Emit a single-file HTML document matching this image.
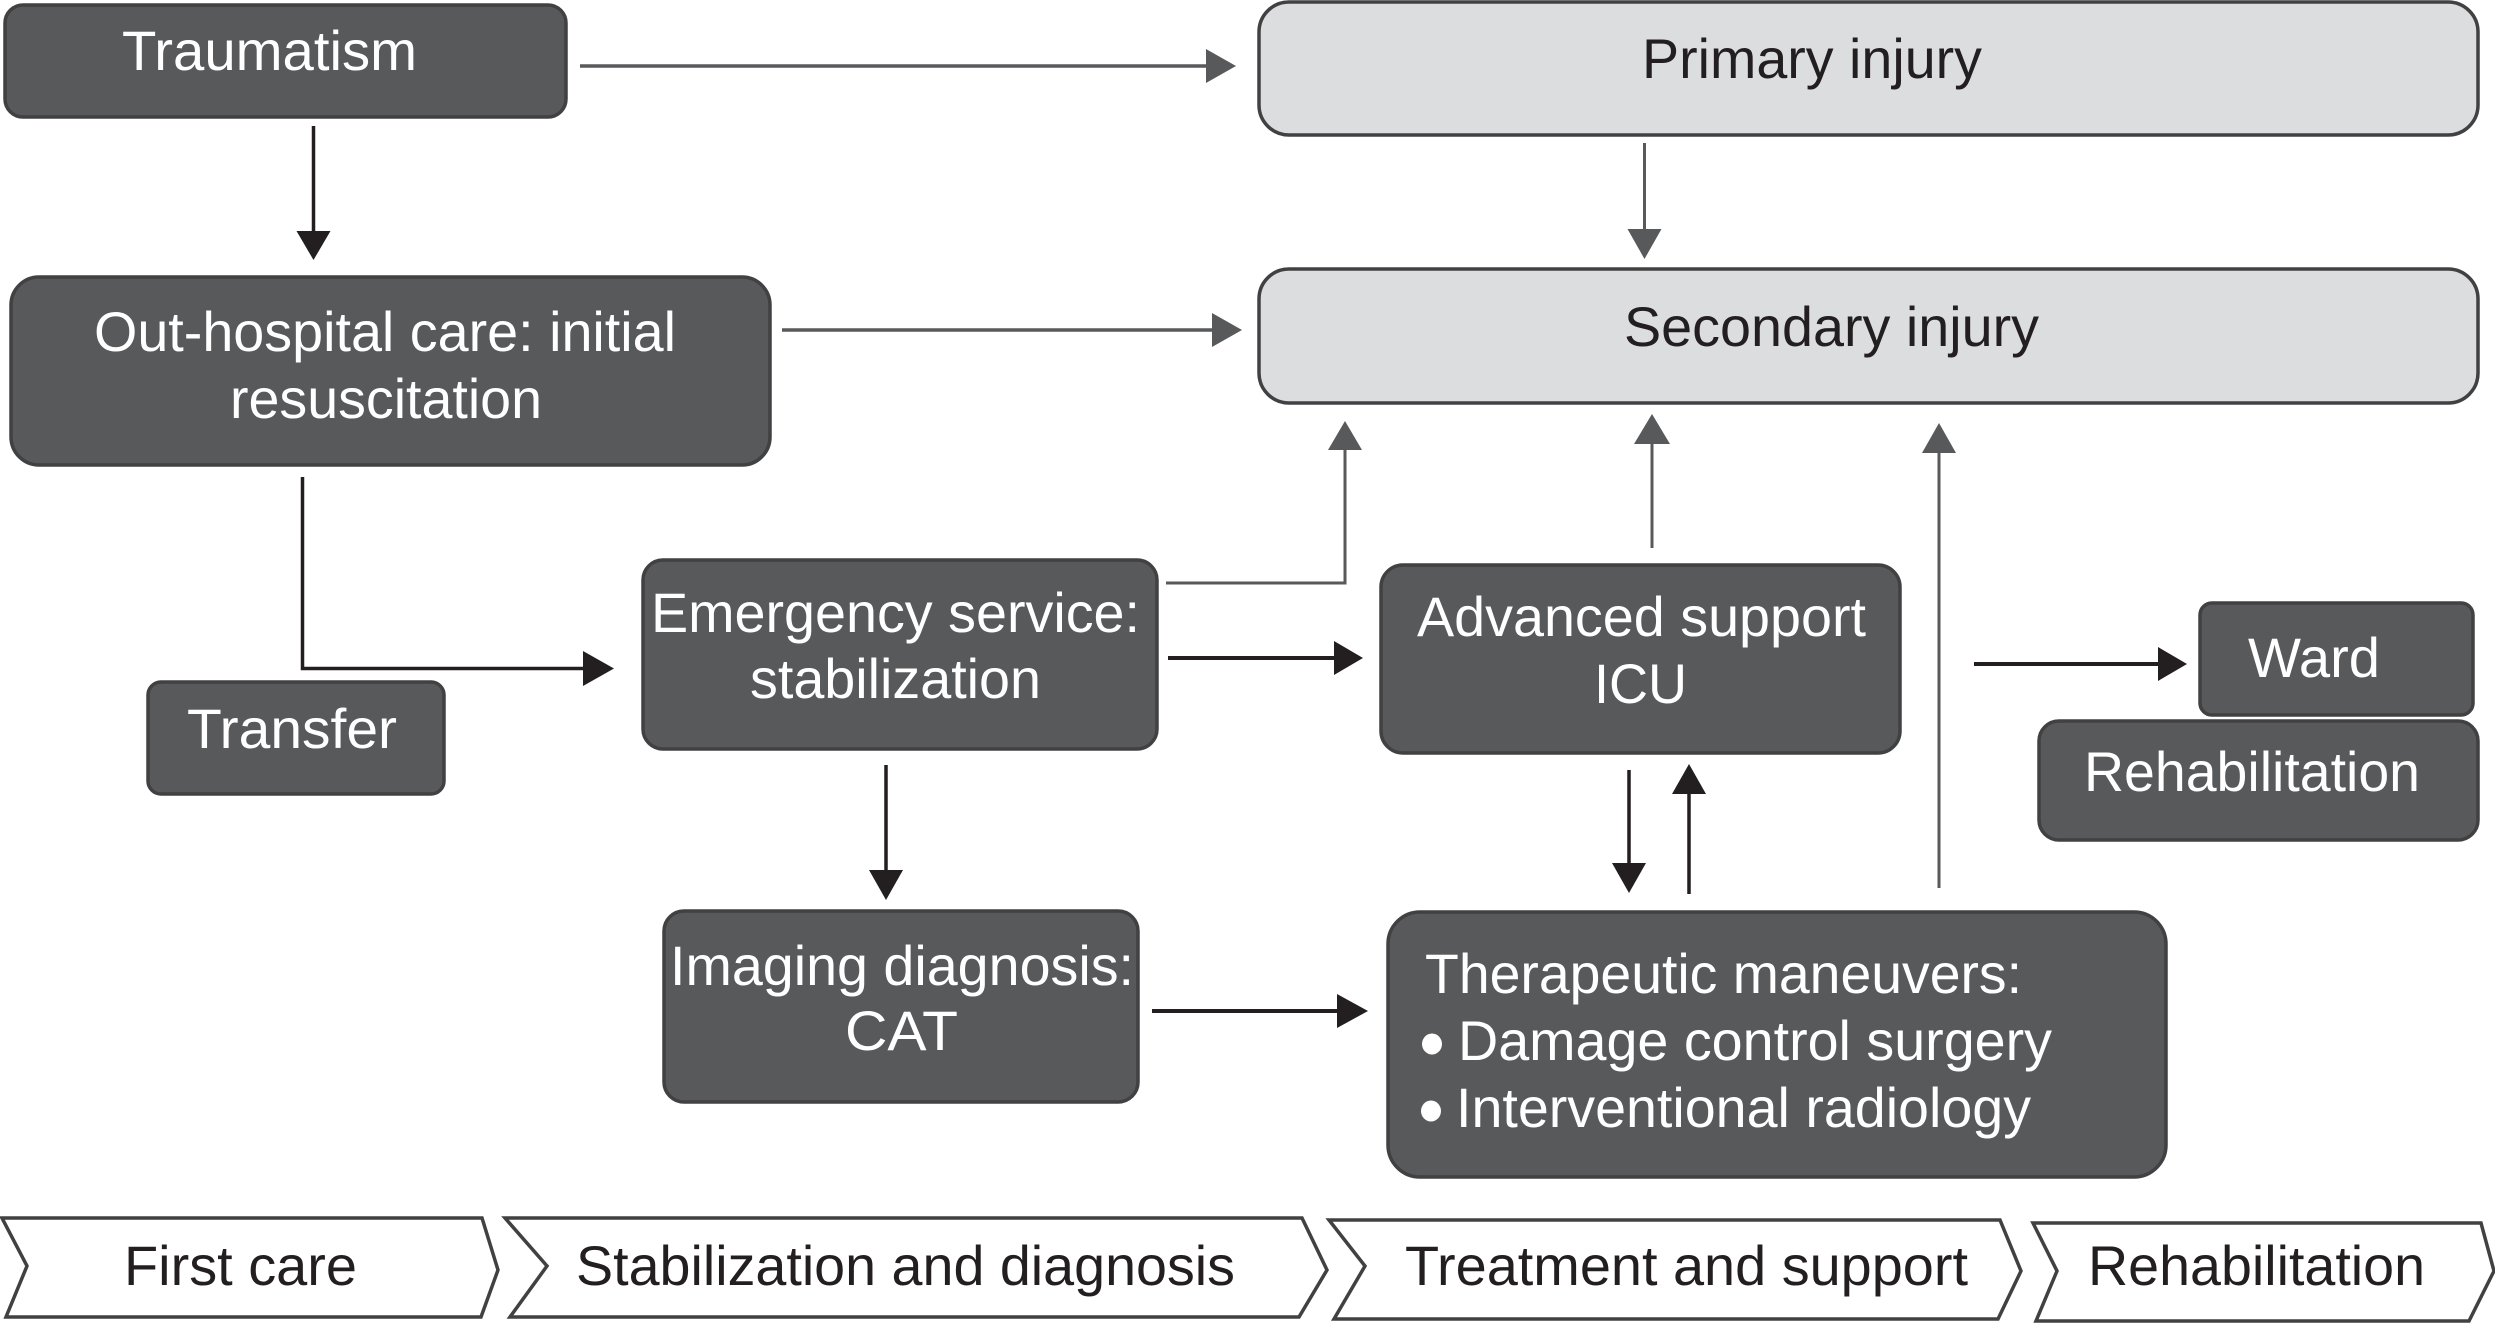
<!DOCTYPE html>
<html lang="en">
<head>
<meta charset="utf-8">
<title>Trauma care pathway</title>
<style>
html,body{margin:0;padding:0;background:#fff;width:2495px;height:1343px;overflow:hidden}
svg{display:block}
text{font-family:"Liberation Sans",Arial,sans-serif;font-size:56px}
.w{fill:#fff}
.k{fill:#231f20}
.d{fill:#58595b;stroke:#414042;stroke-width:3.5}
.l{fill:#dcddde;stroke:#414042;stroke-width:3.5}
.c{fill:#fff;stroke:#414042;stroke-width:3.5}
.g{stroke:#58595b;fill:none}
.b{stroke:#231f20;fill:none}
.gh{fill:#58595b}
.bh{fill:#231f20}
</style>
</head>
<body>
<svg xmlns="http://www.w3.org/2000/svg" width="2495" height="1343" viewBox="0 0 2495 1343">
<!-- boxes -->
<rect class="d" x="5" y="5" width="561" height="112" rx="18"/>
<rect class="d" x="11" y="277" width="759" height="188" rx="28"/>
<rect class="d" x="643" y="560" width="514" height="189" rx="20"/>
<rect class="d" x="148" y="682" width="296" height="112" rx="13"/>
<rect class="d" x="664" y="911" width="474" height="191" rx="20"/>
<rect class="l" x="1259" y="2" width="1219" height="133" rx="30"/>
<rect class="l" x="1259" y="269" width="1219" height="134" rx="30"/>
<rect class="d" x="1381" y="565" width="519" height="188" rx="22"/>
<rect class="d" x="2200" y="603" width="273" height="112" rx="12"/>
<rect class="d" x="2039" y="721" width="439" height="119" rx="20"/>
<rect class="d" x="1388" y="912" width="778" height="265" rx="32"/>

<!-- chevrons -->
<polygon class="c" points="2,1218 482,1218 498,1270 481,1317 6,1317 27,1266"/>
<polygon class="c" points="505,1218 1302,1218 1327,1270 1299,1317 510,1317 547,1266"/>
<polygon class="c" points="1329,1220 2000,1220 2021,1271 1998,1319 1334,1319 1365,1266"/>
<polygon class="c" points="2033,1223 2481,1223 2494,1271 2469,1321 2036,1321 2057,1271"/>

<!-- gray arrows -->
<path class="g" stroke-width="3.5" d="M580 66H1210"/>
<polygon class="gh" points="1206,49 1236,66 1206,83"/>
<path class="g" stroke-width="3.5" d="M782 330H1216"/>
<polygon class="gh" points="1212,313 1242,330 1212,347"/>
<path class="g" stroke-width="3" d="M1644.5 143V233"/>
<polygon class="gh" points="1627.5,229 1661.5,229 1644.5,259"/>
<path class="g" stroke-width="3" d="M1166 583H1345V446"/>
<polygon class="gh" points="1328,450 1362,450 1345,421"/>
<path class="g" stroke-width="3" d="M1652 548V440"/>
<polygon class="gh" points="1634,444 1670,444 1652,414"/>
<path class="g" stroke-width="3" d="M1939 888V449"/>
<polygon class="gh" points="1922,453 1956,453 1939,423"/>

<!-- black arrows -->
<path class="b" stroke-width="3.5" d="M313.5 126V235"/>
<polygon class="bh" points="296.5,231 330.5,231 313.5,260"/>
<path class="b" stroke-width="3.5" d="M302.5 477V668.5H587"/>
<polygon class="bh" points="583,651 614,668.5 583,686"/>
<path class="b" stroke-width="4" d="M1168 658H1338"/>
<polygon class="bh" points="1334,641 1363,658 1334,675"/>
<path class="b" stroke-width="4" d="M1974 664H2162"/>
<polygon class="bh" points="2158,647 2187,664 2158,681"/>
<path class="b" stroke-width="3.5" d="M886 765V874"/>
<polygon class="bh" points="869,870 903,870 886,900"/>
<path class="b" stroke-width="4" d="M1152 1011H1341"/>
<polygon class="bh" points="1337,994 1368,1011 1337,1028"/>
<path class="b" stroke-width="3.5" d="M1629 770V867"/>
<polygon class="bh" points="1612,863 1646,863 1629,893"/>
<path class="b" stroke-width="3.5" d="M1689 894V790"/>
<polygon class="bh" points="1672,794 1706,794 1689,764"/>

<!-- text in dark boxes -->
<text class="w" x="122" y="70" textLength="295" lengthAdjust="spacingAndGlyphs">Traumatism</text>
<text class="w" x="94" y="351" textLength="582" lengthAdjust="spacingAndGlyphs">Out-hospital care: initial</text>
<text class="w" x="230" y="418" textLength="312" lengthAdjust="spacingAndGlyphs">resuscitation</text>
<text class="w" x="651" y="632" textLength="489" lengthAdjust="spacingAndGlyphs">Emergency service:</text>
<text class="w" x="750" y="698" textLength="291" lengthAdjust="spacingAndGlyphs">stabilization</text>
<text class="w" x="187" y="748" textLength="210" lengthAdjust="spacingAndGlyphs">Transfer</text>
<text class="w" x="670" y="985" textLength="464" lengthAdjust="spacingAndGlyphs">Imaging diagnosis:</text>
<text class="w" x="845" y="1050" textLength="113" lengthAdjust="spacingAndGlyphs">CAT</text>
<text class="w" x="1417" y="636" textLength="449" lengthAdjust="spacingAndGlyphs">Advanced support</text>
<text class="w" x="1594" y="703" textLength="93" lengthAdjust="spacingAndGlyphs">ICU</text>
<text class="w" x="2248" y="677" textLength="132" lengthAdjust="spacingAndGlyphs">Ward</text>
<text class="w" x="2084" y="791" textLength="336" lengthAdjust="spacingAndGlyphs">Rehabilitation</text>
<text class="w" x="1425" y="993" textLength="597" lengthAdjust="spacingAndGlyphs">Therapeutic maneuvers:</text>
<text class="w" x="1458" y="1060" textLength="594" lengthAdjust="spacingAndGlyphs">Damage control surgery</text>
<text class="w" x="1456" y="1127" textLength="575" lengthAdjust="spacingAndGlyphs">Interventional radiology</text>
<ellipse cx="1432" cy="1044" rx="10" ry="10.5" fill="#fff"/>
<ellipse cx="1431" cy="1111" rx="10" ry="10.5" fill="#fff"/>

<!-- text in light boxes -->
<text class="k" x="1642" y="78" textLength="340" lengthAdjust="spacingAndGlyphs">Primary injury</text>
<text class="k" x="1624" y="346" textLength="415" lengthAdjust="spacingAndGlyphs">Secondary injury</text>

<!-- text in chevrons -->
<text class="k" x="124" y="1285" textLength="233" lengthAdjust="spacingAndGlyphs">First care</text>
<text class="k" x="576" y="1285" textLength="659" lengthAdjust="spacingAndGlyphs">Stabilization and diagnosis</text>
<text class="k" x="1405" y="1285" textLength="563" lengthAdjust="spacingAndGlyphs">Treatment and support</text>
<text class="k" x="2088" y="1285" textLength="337" lengthAdjust="spacingAndGlyphs">Rehabilitation</text>
</svg>
</body>
</html>
